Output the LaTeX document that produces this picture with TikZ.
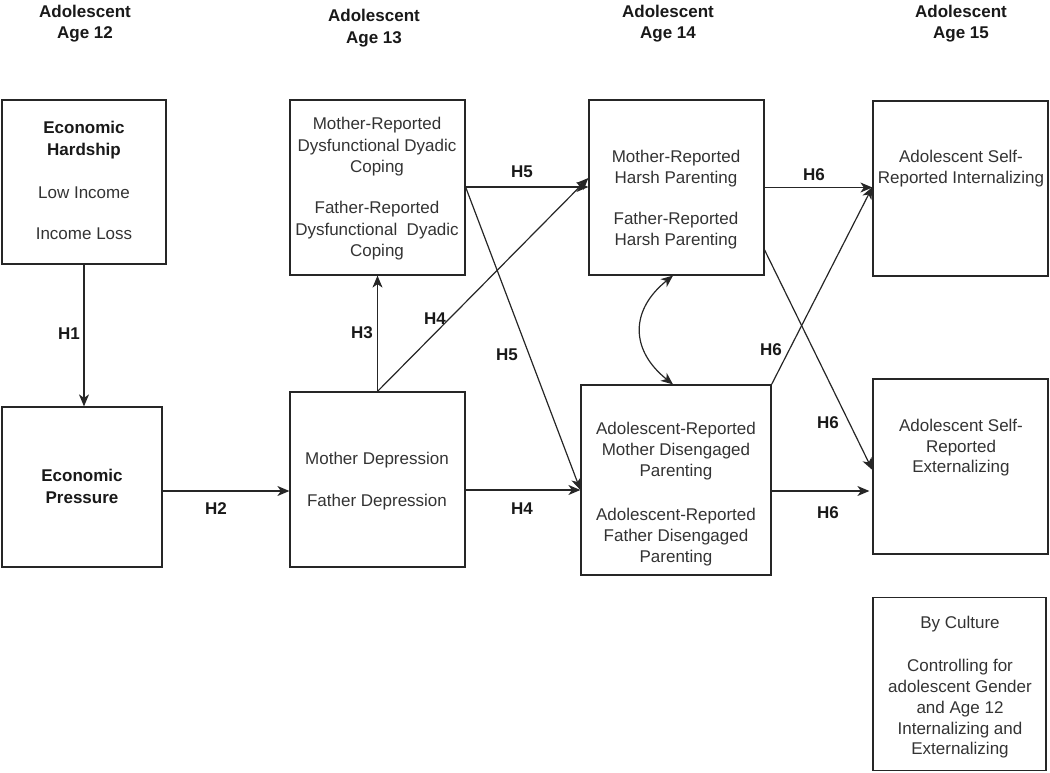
\documentclass[tikz,border=0pt]{standalone}
\usepackage{fontspec}
\setmainfont{Liberation Sans}
\usetikzlibrary{arrows.meta}
\newcommand\tln[5]{\node[#1] (#2) at (#3,#4+6) {#5};}
\begin{document}
\begin{tikzpicture}[x=1pt,y=-1pt,
  txt/.style={anchor=base, inner sep=0pt, font=\fontsize{17}{20}\selectfont, text=black!80},
  bld/.style={anchor=base, inner sep=0pt, font=\fontsize{17}{20}\selectfont\bfseries, text=black!90},
  box/.style={draw=black!85, line width=1.2pt, inner sep=0pt},
  arr/.style={draw=black!85, line width=1.2pt, -{Stealth[length=12pt,width=10pt,inset=3.5pt]}},
  dbl/.style={draw=black!85, line width=1.2pt, {Stealth[length=12pt,width=10pt,inset=3.5pt]}-{Stealth[length=12pt,width=10pt,inset=3.5pt]}},
  ln/.style={draw=black!85, line width=1.2pt}]
\useasboundingbox (0,0) rectangle (1050,773);

% headers
\tln{bld}{h12a}{85}{12}{Adolescent}
\tln{bld}{h12b}{85}{33}{Age 12}
\tln{bld}{h13a}{374}{16}{Adolescent}
\tln{bld}{h13b}{374}{38}{Age 13}
\tln{bld}{h14a}{668}{12}{Adolescent}
\tln{bld}{h14b}{668}{33}{Age 14}
\tln{bld}{h15a}{961}{12}{Adolescent}
\tln{bld}{h15b}{961}{33}{Age 15}

% boxes
\node[box, minimum width=164pt, minimum height=164pt] (hard) at (84,182) {};
\node[box, minimum width=160pt, minimum height=160pt] (pres) at (82,487) {};
\node[box, minimum width=175pt, minimum height=175pt] (cop) at (377.5,187.5) {};
\node[box, minimum width=175pt, minimum height=175pt] (dep) at (377.5,479.5) {};
\node[box, minimum width=175pt, minimum height=175pt] (harsh) at (676.5,187.5) {};
\node[box, minimum width=190pt, minimum height=190pt] (dis) at (676,480) {};
\node[box, minimum width=175pt, minimum height=175pt] (int) at (960.5,188.5) {};
\node[box, minimum width=175pt, minimum height=175pt] (ext) at (960.5,466.5) {};
\node[box, minimum width=173pt, minimum height=173pt] (cul) at (959.5,684) {};

% box texts
\tln{bld}{hardA}{84}{128}{Economic}
\tln{bld}{hardB}{84}{150}{Hardship}
\tln{txt}{hardC}{84}{192}{Low Income}
\tln{txt}{hardD}{84}{233}{Income Loss}

\tln{bld}{presA}{82}{475}{Economic}
\tln{bld}{presB}{82}{497}{Pressure}

\tln{txt}{copA}{377}{124}{Mother-Reported}
\tln{txt}{copB}{377}{146}{Dysfunctional Dyadic}
\tln{txt}{copC}{377}{166}{Coping}
\tln{txt}{copD}{377}{208}{Father-Reported}
\tln{txt}{copE}{377}{229}{Dysfunctional\ \ Dyadic}
\tln{txt}{copF}{377}{250}{Coping}

\tln{txt}{depA}{377}{458}{Mother Depression}
\tln{txt}{depB}{377}{500}{Father Depression}

\tln{txt}{harA}{676}{157}{Mother-Reported}
\tln{txt}{harB}{676}{177}{Harsh Parenting}
\tln{txt}{harC}{676}{218}{Father-Reported}
\tln{txt}{harD}{676}{239}{Harsh Parenting}

\tln{txt}{intA}{961}{157}{Adolescent Self-}
\tln{txt}{intB}{961}{177}{Reported Internalizing}

\tln{txt}{disA}{676}{428}{Adolescent-Reported}
\tln{txt}{disB}{676}{449}{Mother Disengaged}
\tln{txt}{disC}{676}{470}{Parenting}
\tln{txt}{disD}{676}{514}{Adolescent-Reported}
\tln{txt}{disE}{676}{535}{Father Disengaged}
\tln{txt}{disF}{676}{556}{Parenting}

\tln{txt}{extA}{961}{425}{Adolescent Self-}
\tln{txt}{extB}{961}{446}{Reported}
\tln{txt}{extC}{961}{466}{Externalizing}

\tln{txt}{culA}{960}{622}{By Culture}
\tln{txt}{culB}{960}{665}{Controlling for}
\tln{txt}{culC}{960}{686}{adolescent Gender}
\tln{txt}{culD}{960}{707}{and Age 12}
\tln{txt}{culE}{960}{728}{Internalizing and}
\tln{txt}{culF}{960}{748}{Externalizing}

% connectors
\draw[arr] (hard.south) -- (hard.south |- pres.north);
\draw[arr] (pres.east |- 0,491) -- (dep.west |- 0,491);
\draw[arr] (dep.north) -- (cop.south);
\draw[arr] (dep.north) -- (harsh.west |- 0,178);
\draw[arr] (cop.east |- 0,187) -- (harsh.west |- 0,187);
\draw[arr] (cop.east |- 0,187) -- (dis.west |- 0,490);
\draw[arr] (dep.east |- 0,490) -- (dis.west |- 0,490);
\draw[dbl] (harsh.south -| 673,0) .. controls (630,310) and (630,350) .. (dis.north -| 673,0);
\draw[arr] (harsh.east) -- (int.west |- harsh.east);
\draw[arr] (dis.north east) -- (int.west |- 0,187);
\draw[arr] (harsh.east |- 0,250) -- (ext.west |- 0,470);
\draw[arr, shorten >=3pt] (dis.east |- 0,491) -- (ext.west |- 0,491);

% labels
\tln{bld}{lH1}{69}{333}{H1}
\tln{bld}{lH2}{216}{508}{H2}
\tln{bld}{lH3}{362}{332}{H3}
\tln{bld}{lH4a}{435}{318}{H4}
\tln{bld}{lH5a}{507}{354}{H5}
\tln{bld}{lH5b}{522}{172}{H5}
\tln{bld}{lH4b}{522}{508}{H4}
\tln{bld}{lH6a}{814}{175}{H6}
\tln{bld}{lH6b}{771}{349}{H6}
\tln{bld}{lH6c}{828}{422}{H6}
\tln{bld}{lH6d}{828}{512}{H6}
\end{tikzpicture}
\end{document}
